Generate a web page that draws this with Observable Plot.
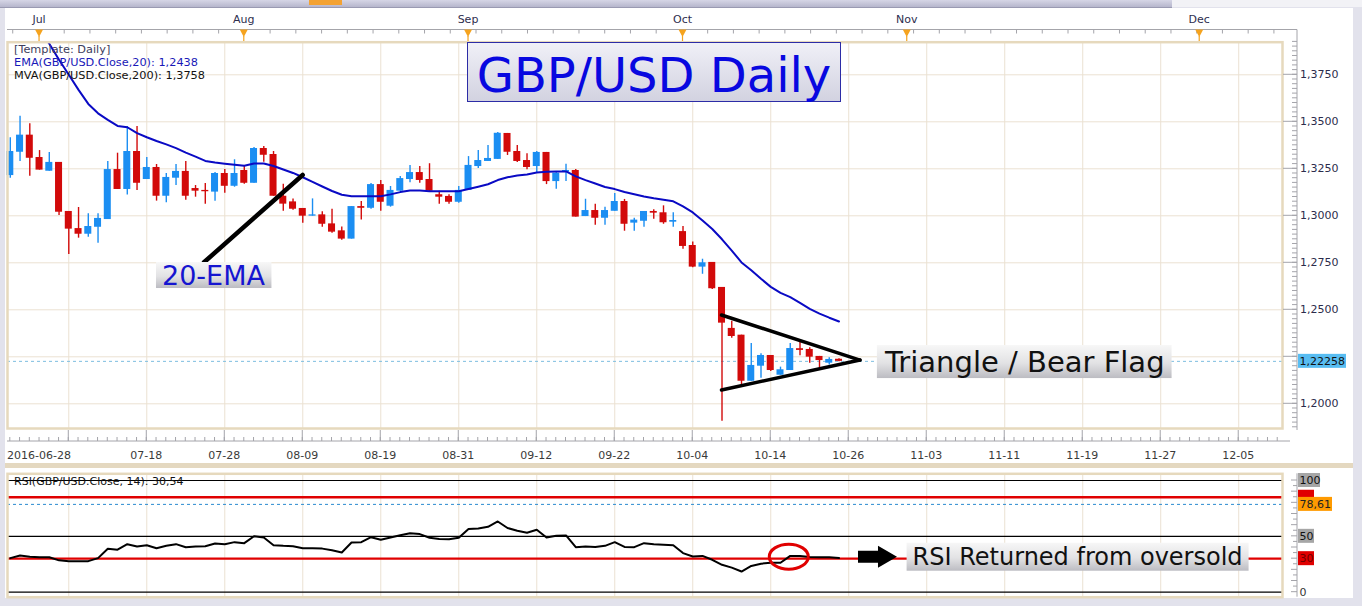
<!DOCTYPE html>
<html><head><meta charset="utf-8">
<script src="https://cdn.jsdelivr.net/npm/d3@7"></script>
<script src="https://cdn.jsdelivr.net/npm/@observablehq/plot@0.6"></script>
<style>
html,body{margin:0;padding:0;background:#e2e2ec;}
#wrap{position:relative;width:1362px;height:606px;overflow:hidden;background:#e2e2ec;font-family:"DejaVu Sans",Verdana,sans-serif;}
#wrap > *{position:absolute;}
</style></head><body><div id="wrap"></div>
<script>
// ---------------- data ----------------
const opens  = [1.3214,1.3338,1.3429,1.3310,1.3237,1.3284,1.3023,1.2932,1.2902,1.2939,
1.2980,1.3246,1.3140,1.3342,1.3193,1.3257,1.3104,1.3200,1.3236,1.3145,
1.3135,1.3126,1.3225,1.3157,1.3241,1.3173,1.3358,1.3326,1.3104,1.3074,
1.3039,1.2998,1.3005,1.2957,1.2920,1.2876,1.3049,1.3040,1.3166,1.3051,
1.3131,1.3193,1.3230,1.3193,1.3112,1.3103,1.3072,1.3135,1.3262,1.3289,
1.3300,1.3438,1.3342,1.3294,1.3262,1.3337,1.3182,1.3232,1.3241,1.2996,
1.3028,1.2987,1.3024,1.3076,1.2961,1.2971,1.3023,1.3016,1.2966,1.2916,
1.2842,1.2727,1.2752,1.2619,1.2401,1.2365,1.2120,1.2200,1.2257,1.2152,
1.2177,1.2293,1.2289,1.2252,1.2216,1.2237];
const highs  = [1.3415,1.3530,1.3489,1.3347,1.3337,1.3284,1.3023,1.3044,1.3011,1.3011,
1.3289,1.3333,1.3475,1.3475,1.3310,1.3273,1.3225,1.3273,1.3289,1.3161,
1.3172,1.3230,1.3246,1.3298,1.3262,1.3363,1.3369,1.3342,1.3168,1.3090,
1.3039,1.3090,1.3021,1.3035,1.2941,1.3049,1.3076,1.3172,1.3188,1.3156,
1.3209,1.3268,1.3262,1.3277,1.3131,1.3112,1.3156,1.3315,1.3347,1.3374,
1.3443,1.3438,1.3374,1.3330,1.3342,1.3337,1.3232,1.3274,1.3246,1.3088,
1.3062,1.3046,1.3119,1.3087,1.2987,1.3023,1.3032,1.3053,1.3016,1.2943,
1.2860,1.2769,1.2752,1.2619,1.2439,1.2365,1.2321,1.2266,1.2257,1.2195,
1.2321,1.2330,1.2298,1.2252,1.2245,1.2240];
const lows   = [1.3200,1.3289,1.3211,1.3243,1.3237,1.3002,1.2794,1.2881,1.2886,1.2854,
1.2980,1.3140,1.3110,1.3135,1.3193,1.3078,1.3069,1.3161,1.3083,1.3099,
1.3062,1.3078,1.3120,1.3152,1.3168,1.3173,1.3285,1.3104,1.3024,1.3030,
1.2961,1.2998,1.2939,1.2907,1.2870,1.2876,1.2977,1.3035,1.3024,1.3046,
1.3131,1.3176,1.3173,1.3126,1.3062,1.3062,1.3067,1.3135,1.3252,1.3289,
1.3300,1.3321,1.3284,1.3245,1.3230,1.3166,1.3141,1.3182,1.2993,1.2996,
1.2950,1.2950,1.3024,1.2918,1.2918,1.2939,1.2982,1.2955,1.2939,1.2822,
1.2723,1.2689,1.2608,1.1907,1.2349,1.2101,1.2120,1.2136,1.2172,1.2152,
1.2177,1.2255,1.2216,1.2189,1.2207,1.2223];
const closes = [1.3342,1.3429,1.3306,1.3243,1.3284,1.3019,1.2929,1.2902,1.2943,1.2986,
1.3246,1.3140,1.3342,1.3173,1.3257,1.3104,1.3204,1.3236,1.3104,1.3131,
1.3128,1.3225,1.3157,1.3225,1.3173,1.3358,1.3322,1.3104,1.3062,1.3035,
1.2998,1.3005,1.2955,1.2913,1.2876,1.3049,1.3040,1.3166,1.3072,1.3135,
1.3198,1.3230,1.3188,1.3131,1.3099,1.3072,1.3135,1.3268,1.3294,1.3305,
1.3439,1.3338,1.3289,1.3257,1.3337,1.3182,1.3227,1.3241,1.2993,1.3028,
1.2987,1.3028,1.3076,1.2955,1.2977,1.3023,1.3014,1.2963,1.2975,1.2837,
1.2727,1.2750,1.2612,1.2429,1.2358,1.2120,1.2204,1.2257,1.2177,1.2181,
1.2294,1.2284,1.2248,1.2230,1.2236,1.22258];
const ema20 = [null,null,null,1.3985,1.3915,1.3830,1.3750,1.3670,1.3595,1.3545,
1.3510,1.3478,1.3471,1.3440,1.3418,1.3398,1.3380,1.3360,1.3336,1.3315,
1.3292,1.3283,1.3277,1.3272,1.3266,1.3278,1.3278,1.3265,1.3246,1.3228,
1.3205,1.3180,1.3156,1.3132,1.3112,1.3104,1.3104,1.3104,1.3104,1.3114,
1.3126,1.3134,1.3134,1.3131,1.3131,1.3131,1.3131,1.3143,1.3155,1.3168,
1.3190,1.3205,1.3214,1.3220,1.3230,1.3234,1.3236,1.3236,1.3210,1.3190,
1.3172,1.3153,1.3142,1.3127,1.3115,1.3103,1.3093,1.3085,1.3077,1.3050,
1.3018,1.2975,1.2930,1.2875,1.2815,1.2752,1.2710,1.2665,1.2622,1.2590,
1.2567,1.2537,1.2505,1.2480,1.2458,1.2438];
const rsi14 = [30.5,32.8,31.8,31.3,31.3,28.5,27.8,27.8,27.8,30.5,
38.9,38.0,43.0,40.9,42.0,39.4,41.5,43.0,40.3,40.8,
41.2,43.6,43.0,44.8,43.9,50.1,49.0,42.1,41.5,41.2,
39.4,39.4,39.0,37.5,35.5,44.5,44.8,49.2,46.9,49.0,
51.0,52.8,52.0,48.7,47.6,47.4,48.7,56.5,57.0,58.5,
63.3,57.5,55.0,53.2,55.9,49.0,50.5,50.8,40.3,40.9,
40.5,41.5,44.8,40.5,40.3,43.9,42.9,42.5,42.1,35.0,
32.0,32.5,29.0,24.5,22.0,18.5,23.5,25.5,26.3,26.3,
32.5,32.3,31.4,31.3,31.3,30.54];
const lastPrice = 1.22258, emaLast = 1.2438, mvaLast = 1.3758, rsiLast = 30.54;
const tickDates = ["2016-06-28","2016-07-18","2016-07-28","2016-08-09","2016-08-19","2016-08-31","2016-09-12","2016-09-22","2016-10-04","2016-10-14","2016-10-26","2016-11-03","2016-11-11","2016-11-19","2016-11-27","2016-12-05"];
const gridDates = ["2016-07-06","2016-07-18","2016-07-28","2016-08-09","2016-08-19","2016-08-31","2016-09-12","2016-09-22","2016-10-04","2016-10-14","2016-10-26","2016-11-03","2016-11-11","2016-11-19","2016-11-27","2016-12-05"];
const monthDates = ["2016-07-01","2016-08-01","2016-09-01","2016-10-01","2016-11-01","2016-12-01"];
const monthNames = ["Jul","Aug","Sep","Oct","Nov","Dec"];
const priceTicks = [1.2,1.225,1.25,1.275,1.3,1.325,1.35,1.375];
const rsiBlackLevels = [100,50,0];
const rsiRedLevels = [85,30];
const rsiDotted = 78.61;
// annotations (slot, value)
const emaPointer = [[19.92,1.2750],[30.04,1.32144]];
const emaLabelAt = [15.61,1.26824];
const triUpper = [[73,1.24697],[87.2,1.2230]];
const triLower = [[73,1.20707],[87.2,1.2230]];
const triLabelAt = [89.76,1.2222];
const rsiCircleAt = [79.9,31.3];
const rsiArrow = [87.0,89.05,91.0,31.3];
const rsiLabelAt = [92.6,31.3];

// ---------------- helpers ----------------
const BLUE="#1b8ef2", RED="#d20a0a", EMAC="#0a0ac4", GRID="#ebe1d2", FRAME="#e6d9bd";
const parse = d3.utcParse("%Y-%m-%d");
const day0 = parse("2016-06-28"), pivot = parse("2016-10-26");
const tradingSlot = d => d3.utcDays(day0, d).filter(t => t.getUTCDay() % 6 !== 0).length;
const slotOf = s => { const d = parse(s); return d <= pivot ? tradingSlot(d) : tradingSlot(pivot) + d3.utcDay.count(pivot, d); };
const comma = (f) => v => d3.format(f)(v).replace(".", ",");
const xDomain = [-0.287, 130.49];
const gridSlots = gridDates.map(slotOf);

const wrap = d3.select("#wrap");
// panel backgrounds
wrap.append("div").style("left","0px").style("top","0px").style("width","1172px").style("height","7px")
  .style("background","linear-gradient(#d6d6e6,#b6b6cc)").style("border-bottom","1px solid #9a9ab2");
wrap.append("div").style("left","1172px").style("top","0px").style("width","190px").style("height","7px").style("background","#f2f2f6");
wrap.append("div").style("left","309px").style("top","0px").style("width","33px").style("height","5px").style("background","#f3a233");
wrap.append("div").style("left","5px").style("top","8px").style("width","1348px").style("height","455px").style("background","#fff");
wrap.append("div").style("left","5px").style("top","463px").style("width","1348px").style("height","5px").style("background","#e4d8c0");
wrap.append("div").style("left","5px").style("top","468px").style("width","1348px").style("height","130px").style("background","#fff");

const candles = opens.map((o,i)=>({i, o, h:highs[i], l:lows[i], c:closes[i], col: closes[i] >= o ? BLUE : RED}));
const emaData = ema20.map((v,i)=>({i,v})).filter(d=>d.v!=null);
const rsiData = rsi14.map((v,i)=>({i,v}));

const MAIN_TOP = 38, RSI_TOP = 468;
const mainPlot = Plot.plot({
  width:1362, height:425, marginLeft:7, marginRight:80, marginTop:3.7, marginBottom:35,
  x:{domain:xDomain, axis:null},
  y:{domain:[1.18686,1.39234], axis:null},
  color:{type:"identity"},
  style:{background:"transparent", overflow:"visible", fontFamily:"DejaVu Sans"},
  marks:[
    Plot.frame({fill:"#fff"}),
    Plot.ruleY(priceTicks,{stroke:GRID,strokeWidth:1}),
    Plot.ruleX(gridSlots,{stroke:GRID,strokeWidth:1}),
    Plot.ruleY([lastPrice],{stroke:"#7cbde0",strokeDasharray:"3,3",strokeWidth:1}),
    Plot.ruleX(candles,{x:"i",y1:"l",y2:"h",stroke:"col",strokeWidth:1.4}),
    Plot.rect(candles,{x1:d=>d.i-0.36,x2:d=>d.i+0.36,y1:"o",y2:"c",fill:"col"}),
    Plot.line(emaData,{x:"i",y:"v",stroke:EMAC,strokeWidth:2,clip:true}),
    Plot.frame({stroke:FRAME,strokeWidth:2.5})
  ]
});
mainPlot.style.left="0px"; mainPlot.style.top=MAIN_TOP+"px";
wrap.node().appendChild(mainPlot);

const rsiPlot = Plot.plot({
  width:1362, height:132, marginLeft:7, marginRight:80, marginTop:5.3, marginBottom:3.3,
  x:{domain:xDomain, axis:null},
  y:{domain:[-4.5,106], axis:null},
  style:{background:"transparent", overflow:"visible", fontFamily:"DejaVu Sans"},
  marks:[
    Plot.frame({fill:"#fff"}),
    Plot.ruleX(gridSlots,{stroke:GRID,strokeWidth:1}),
    Plot.ruleY(rsiBlackLevels,{stroke:"#000",strokeWidth:1.2}),
    Plot.ruleY(rsiRedLevels,{stroke:"#e00000",strokeWidth:2.4}),
    Plot.ruleY([rsiDotted],{stroke:"#2a8ad0",strokeDasharray:"3,3",strokeWidth:1}),
    Plot.line(rsiData,{x:"i",y:"v",stroke:"#000",strokeWidth:2}),
    Plot.frame({stroke:FRAME,strokeWidth:2.5})
  ]
});
rsiPlot.style.left="0px"; rsiPlot.style.top=RSI_TOP+"px";
wrap.node().appendChild(rsiPlot);

const X = s => mainPlot.scale("x").apply(s);
const Ym = p => MAIN_TOP + mainPlot.scale("y").apply(p);
const Yr = v => RSI_TOP + rsiPlot.scale("y").apply(v);

// ---------------- overlay ----------------
const ov = wrap.append("svg").attr("width",1362).attr("height",606).style("left","0px").style("top","0px").style("overflow","visible");
const defs = ov.append("defs");
const g1 = defs.append("linearGradient").attr("id","lblGrad").attr("x1",0).attr("x2",0).attr("y1",0).attr("y2",1);
g1.append("stop").attr("offset",0).attr("stop-color","#f7f7f7");
g1.append("stop").attr("offset",0.55).attr("stop-color","#e2e2e4");
g1.append("stop").attr("offset",1).attr("stop-color","#bcbcc2");
const g2 = defs.append("linearGradient").attr("id","titleGrad").attr("x1",0).attr("x2",0).attr("y1",0).attr("y2",1);
g2.append("stop").attr("offset",0).attr("stop-color","#f0f0f7");
g2.append("stop").attr("offset",1).attr("stop-color","#d2d2e0");

// header ruler
const x0 = X(xDomain[0]);
ov.append("line").attr("x1",x0).attr("x2",1297).attr("y1",29.5).attr("y2",29.5).attr("stroke","#a4a4aa");
ov.selectAll(".ht").data(d3.range(0.3, xDomain[1], 2.64)).join("line")
  .attr("x1",d=>X(d)).attr("x2",d=>X(d)).attr("y1",29.5).attr("y2",33.5).attr("stroke","#a4a4aa");
monthDates.forEach((m,k)=>{
  const x = X(slotOf(m));
  ov.append("path").attr("d",`M${x-4},29.5L${x+4},29.5L${x},37Z`).attr("fill","#f5a31e");
  ov.append("line").attr("x1",x).attr("x2",x).attr("y1",36).attr("y2",41).attr("stroke","#f5a31e").attr("stroke-width",1.2);
  ov.append("text").attr("x",x).attr("y",19).attr("dy","0.35em").attr("text-anchor","middle")
    .style("font-size","11px").attr("fill","#2e2e4e").text(monthNames[k]);
});

// legend
const leg = [["[Template: Daily]","#3d3d5c",49.5],
  ["EMA(GBP/USD.Close,20): "+comma(".4f")(emaLast),"#1818b8",62],
  ["MVA(GBP/USD.Close,200): "+comma(".4f")(mvaLast),"#111",75]];
leg.forEach(([t,c,y])=>ov.append("text").attr("x",14).attr("y",y).attr("dy","0.35em").style("font-size","11.3px").attr("fill",c).text(t));

// title
ov.append("rect").attr("x",467.5).attr("y",42.5).attr("width",373).attr("height",59).attr("fill","url(#titleGrad)").attr("stroke","#2c2ca6");
ov.append("text").attr("x",654).attr("y",92).attr("text-anchor","middle").style("font-size","48px").attr("fill","#0808e0").text("GBP/USD Daily");

// right price axis
ov.append("line").attr("x1",1297).attr("x2",1297).attr("y1",29.5).attr("y2",430).attr("stroke","#a4a4aa");
d3.range(1.1875,1.3925,0.0025).forEach(v=>{
  const y = Ym(v); if (y < 41 || y > 429) return;
  ov.append("line").attr("x1",1292).attr("x2",1297).attr("y1",y).attr("y2",y).attr("stroke","#a4a4aa");
});
const tagY = Ym(lastPrice);
priceTicks.forEach(v=>{
  const y = Ym(v);
  ov.append("line").attr("x1",1283).attr("x2",1297).attr("y1",y).attr("y2",y).attr("stroke","#a4a4aa");
  if (Math.abs(y - tagY) < 14) return; // hidden behind the last-price tag
  ov.append("text").attr("x",1300).attr("y",y).attr("dy","0.35em").style("font-size","11px").attr("fill","#2c2c4c").text(comma(".4f")(v));
});
ov.append("rect").attr("x",1298).attr("y",tagY-7).attr("width",48).attr("height",14).attr("fill","#58bdf2");
ov.append("text").attr("x",1299.5).attr("y",tagY).attr("dy","0.35em").style("font-size","11px").attr("fill","#111").text(comma(".5f")(lastPrice));

// x ruler + labels
ov.append("line").attr("x1",x0).attr("x2",1290).attr("y1",441).attr("y2",441).attr("stroke","#a4a4aa");
d3.range(0, Math.floor(xDomain[1])+1).forEach(s=>{
  ov.append("line").attr("x1",X(s)).attr("x2",X(s)).attr("y1",437).attr("y2",441).attr("stroke","#a4a4aa");
});
gridSlots.forEach(s=>{
  ov.append("line").attr("x1",X(s)).attr("x2",X(s)).attr("y1",430).attr("y2",441).attr("stroke","#a4a4aa");
});
tickDates.forEach((d,k)=>{
  const first = k===0;
  ov.append("text").attr("x", first ? x0 : X(slotOf(d))).attr("y",455).attr("dy","0.35em")
    .attr("text-anchor", first ? "start" : "middle").style("font-size","11px").attr("fill","#3a3a3a")
    .text(first ? d : d3.utcFormat("%m-%d")(parse(d)));
});

// annotation label helper
function labelBox(x, yc, text, size, color, padX, h){
  const g = ov.append("g");
  const r = g.append("rect");
  const t = g.append("text").attr("x",x).attr("y",yc).attr("dy","0.36em").style("font-size",size+"px").attr("fill",color).text(text);
  const bb = t.node().getBBox();
  r.attr("x",bb.x-padX).attr("y",yc-h/2).attr("width",bb.width+2*padX).attr("height",h).attr("fill","url(#lblGrad)");
}
const seg = (pts, w) => ov.append("line").attr("x1",X(pts[0][0])).attr("y1",Ym(pts[0][1])).attr("x2",X(pts[1][0])).attr("y2",Ym(pts[1][1]))
  .attr("stroke","#000").attr("stroke-width",w).attr("stroke-linecap","round");

// 20-EMA annotation
seg(emaPointer, 4.5);
labelBox(X(emaLabelAt[0]), Ym(emaLabelAt[1]), "20-EMA", 27, "#1515d0", 6, 26);
// triangle annotation
seg(triUpper, 3.5); seg(triLower, 3.5);
labelBox(X(triLabelAt[0]), Ym(triLabelAt[1]), "Triangle / Bear Flag", 29, "#111", 7, 33);

// RSI axis
ov.append("line").attr("x1",1297).attr("x2",1297).attr("y1",Yr(106)).attr("y2",Yr(-4.5)).attr("stroke","#a4a4aa");
d3.range(0,101,5).forEach(v=>{
  const y = Yr(v);
  ov.append("line").attr("x1", v%10===0 ? 1291 : 1293).attr("x2",1297).attr("y1",y).attr("y2",y).attr("stroke","#a4a4aa");
});
function rsiTag(v, text, bg, fg, w){
  const y = Yr(v);
  if (bg) ov.append("rect").attr("x",1298).attr("y",y-7).attr("width",w).attr("height",14).attr("fill",bg);
  if (text) ov.append("text").attr("x",1299.5).attr("y",y).attr("dy","0.35em").style("font-size","11px").attr("fill",fg).text(text);
}
rsiTag(100,"100","#a6a6a6","#111",22);
rsiTag(rsiRedLevels[0],null,"#e00000","#700000",16); // covered by the 78,61 tag in the reference
rsiTag(rsiDotted, comma(".2f")(rsiDotted),"#ff9a00","#222",34);
rsiTag(50,"50","#a6a6a6","#111",16);
rsiTag(rsiRedLevels[1],"30","#e00000","#700000",16);
rsiTag(0,"0",null,"#333",0);
ov.append("text").attr("x",14).attr("y",Yr(100)+1).attr("dy","0.35em").style("font-size","11px").attr("fill","#111")
  .text("RSI(GBP/USD.Close, 14): "+comma(".2f")(rsiLast));

// RSI annotations
ov.append("ellipse").attr("cx",X(rsiCircleAt[0])).attr("cy",Yr(rsiCircleAt[1])).attr("rx",19.5).attr("ry",12.5)
  .attr("fill","none").attr("stroke","#e00000").attr("stroke-width",3);
{
  const [a,b,c,v] = rsiArrow; const y = Yr(v);
  ov.append("path").attr("d",`M${X(a)},${y-6}L${X(b)},${y-6}L${X(b)},${y-11}L${X(c)},${y}L${X(b)},${y+11}L${X(b)},${y+6}L${X(a)},${y+6}Z`).attr("fill","#000");
}
labelBox(X(rsiLabelAt[0]), Yr(rsiLabelAt[1]), "RSI Returned from oversold", 24, "#111", 6, 28);
</script></body></html>
